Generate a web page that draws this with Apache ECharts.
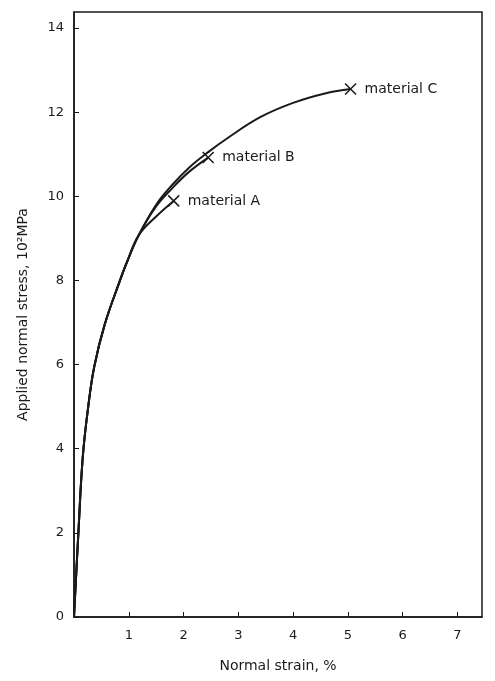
<!DOCTYPE html>
<html>
<head>
<meta charset="utf-8">
<script src="https://cdn.jsdelivr.net/npm/echarts@6/dist/echarts.min.js"></script>
<style>
  html, body { margin: 0; padding: 0; background: #fff; }
  #chart { width: 495px; height: 681px; }
</style>
</head>
<body>
<div id="chart"></div>
<script>
// stress-strain curves, strain in %, stress in 10^2 MPa
const strainA = [0, 0.08, 0.16, 0.26, 0.37, 0.56, 0.84, 0.95, 1.18, 1.5, 1.82]
const stressA = [0, 2.0, 3.8, 5.0, 5.95, 6.95, 8.0, 8.38, 9.07, 9.52, 9.89]
const strainB = [0, 0.08, 0.16, 0.26, 0.37, 0.56, 0.84, 0.95, 1.18, 1.5, 1.8, 2.1, 2.45]
const stressB = [0, 2.0, 3.8, 5.0, 5.95, 6.95, 8.0, 8.38, 9.07, 9.76, 10.2, 10.58, 10.92]
const strainC = [0, 0.08, 0.16, 0.26, 0.37, 0.56, 0.84, 0.95, 1.18, 1.5, 1.8, 2.1, 2.45, 2.8, 3.4, 4.0, 4.6, 5.05]
const stressC = [0, 2.0, 3.8, 5.0, 5.95, 6.95, 8.0, 8.38, 9.07, 9.8, 10.28, 10.68, 11.05, 11.38, 11.88, 12.22, 12.45, 12.55]
const materials = ['material A', 'material B', 'material C']

const xTicks = [1, 2, 3, 4, 5, 6, 7]
const yTicks = [0, 2, 4, 6, 8, 10, 12, 14]

const curves = [[strainA, stressA], [strainB, stressB], [strainC, stressC]]
const pair = (xs, ys) => xs.map((x, i) => [x, ys[i]])

const ink = '#1a1a1a'
const font = 'DejaVu Sans'

let chart = echarts.init(document.getElementById('chart'))

const lineSeries = curves.map((c, i) => ({
  name: materials[i],
  type: 'line',
  data: pair(c[0], c[1]),
  smooth: 0.4,
  showSymbol: false,
  lineStyle: { color: ink, width: 2 },
  z: 2
}))

// failure points = last point of each curve
const ends = curves.map((c, i) => ({
  value: [c[0][c[0].length - 1], c[1][c[1].length - 1]],
  name: materials[i]
}))

chart.setOption({
  animation: false,
  grid: {
    left: 74, right: 13, top: 12, bottom: 64,
    show: true, borderColor: ink, borderWidth: 1.5
  },
  xAxis: {
    type: 'value',
    min: 0, max: 7.45, interval: 1,
    name: 'Normal strain, %',
    nameLocation: 'middle',
    nameGap: 42,
    nameTextStyle: { fontFamily: font, fontSize: 14, color: ink },
    axisLine: { lineStyle: { color: ink, width: 1.5 } },
    axisTick: { inside: true, length: 5, lineStyle: { color: ink } },
    axisLabel: {
      fontFamily: font, fontSize: 13, color: ink, margin: 12,
      showMinLabel: false, showMaxLabel: false,
      formatter: v => (xTicks.includes(v) ? String(v) : '')
    },
    splitLine: { show: false }
  },
  yAxis: {
    type: 'value',
    min: 0, max: 14.38, interval: 2,
    name: 'Applied normal stress, 10²MPa',
    nameLocation: 'middle',
    nameGap: 44,
    nameTextStyle: { fontFamily: font, fontSize: 14, color: ink },
    axisLine: { lineStyle: { color: ink, width: 1.5 } },
    axisTick: { inside: true, length: 5, lineStyle: { color: ink } },
    axisLabel: {
      fontFamily: font, fontSize: 13, color: ink, margin: 10,
      showMaxLabel: false,
      formatter: v => (yTicks.includes(v) ? String(v) : '')
    },
    splitLine: { show: false }
  },
  series: [
    ...lineSeries,
    {
      type: 'scatter',
      data: ends,
      symbol: 'path://M0,0L10,10M10,0L0,10',
      symbolSize: 11,
      itemStyle: { color: 'none', borderColor: ink, borderWidth: 1.5, opacity: 1 },
      label: {
        show: true,
        position: 'right',
        distance: 6,
        formatter: p => p.name,
        fontFamily: font, fontSize: 14, color: ink
      },
      z: 3
    }
  ]
})
</script>
</body>
</html>
